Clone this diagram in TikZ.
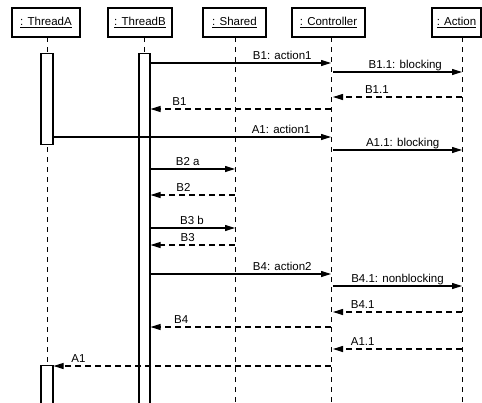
\documentclass[tikz,border=0pt]{standalone}
\usepackage{fontspec}
\setmainfont{Liberation Sans}
\usetikzlibrary{arrows.meta}
\begin{document}
\begin{tikzpicture}[x=1pt,y=-1pt,
  obj/.style={draw,line width=1.2pt,minimum height=29pt,inner sep=0pt,font=\fontsize{11.5}{13}\selectfont},
  life/.style={line width=0.9pt,dash pattern=on 5pt off 5pt},
  act/.style={draw,line width=1.1pt,fill=white,inner sep=0pt,anchor=north},
  msg/.style={line width=1.1pt,-{Triangle[length=10pt,width=6pt]}},
  ret/.style={msg,dash pattern=on 6pt off 4pt},
  lbl/.style={font=\fontsize{11.5}{13}\selectfont,anchor=base,yshift=4pt,inner sep=0pt}]
\useasboundingbox (0,0) rectangle (482,402);
% headers
\node[obj,minimum width=68pt] (hA) at (46,22.5) {\underline{: ThreadA}};
\node[obj,minimum width=64pt] (hB) at (140,22.5) {\underline{: ThreadB}};
\node[obj,minimum width=63pt] (hS) at (234.5,22.5) {\underline{: Shared}};
\node[obj,minimum width=73pt] (hC) at (328.5,22.5) {\underline{: Controller}};
\node[obj,minimum width=49pt] (hX) at (456.5,22.5) {\underline{: Action}};
% lifeline tops
\coordinate (lA) at (47,37);
\coordinate (lB) at (144.5,37);
\coordinate (lS) at (235,37);
\coordinate (lC) at (331,37);
\coordinate (lCo) at (333,37);
\coordinate (lX) at (462,37);
\coordinate (eA) at (47,402);
\coordinate (eS) at (235,402);
\coordinate (eC) at (331,402);
\coordinate (eX) at (462,402);
% lifelines
\draw[life] (lA) -- (eA);
\draw[life] (lB) -- (144.5,53);
\draw[life] (lS) -- (eS);
\draw[life] (lC) -- (eC);
\draw[life] (lX) -- (eX);
% activations
\node[act,minimum width=12pt,minimum height=91pt] (aA1) at (47,53) {};
\node[act,minimum width=12pt,minimum height=60pt] (aA2) at (47,365) {};
\node[act,minimum width=11pt,minimum height=360pt] (aB) at (144.5,53) {};
% messages
\draw[msg] (aB.east |- 0,63) -- (lC |- 0,63) node[lbl,pos=0.73] {B1: action1};
\draw[msg] (lCo |- 0,72) -- (lX |- 0,72) node[lbl,pos=0.56] {B1.1: blocking};
\draw[ret] (lX |- 0,97) -- (lCo |- 0,97) node[lbl,pos=0.66] {B1.1};
\draw[ret] (lC |- 0,109) -- (aB.east |- 0,109) node[lbl,pos=0.84] {B1};
\draw[msg] (aA1.east |- 0,137) -- (lC |- 0,137) node[lbl,pos=0.82] {A1: action1};
\draw[msg] (lCo |- 0,150) -- (lX |- 0,150) node[lbl,pos=0.54] {A1.1: blocking};
\draw[msg] (aB.east |- 0,169) -- (lS |- 0,169) node[lbl,pos=0.44] {B2 a};
\draw[ret] (lS |- 0,195) -- (aB.east |- 0,195) node[lbl,pos=0.61] {B2};
\draw[msg] (aB.east |- 0,228) -- (lS |- 0,228) node[lbl,pos=0.49] {B3 b};
\draw[ret] (lS |- 0,245) -- (aB.east |- 0,245) node[lbl,pos=0.56] {B3};
\draw[msg] (aB.east |- 0,274) -- (lC |- 0,274) node[lbl,pos=0.73] {B4: action2};
\draw[msg] (lCo |- 0,286) -- (lX |- 0,286) node[lbl,pos=0.50] {B4.1: nonblocking};
\draw[ret] (lX |- 0,312) -- (lCo |- 0,312) node[lbl,pos=0.77] {B4.1};
\draw[ret] (lC |- 0,327) -- (aB.east |- 0,327) node[lbl,pos=0.83] {B4};
\draw[ret] (lX |- 0,349) -- (lCo |- 0,349) node[lbl,pos=0.77] {A1.1};
\draw[ret] (lC |- 0,366) -- (aA2.east |- 0,366) node[lbl,pos=0.91] {A1};
\end{tikzpicture}
\end{document}
